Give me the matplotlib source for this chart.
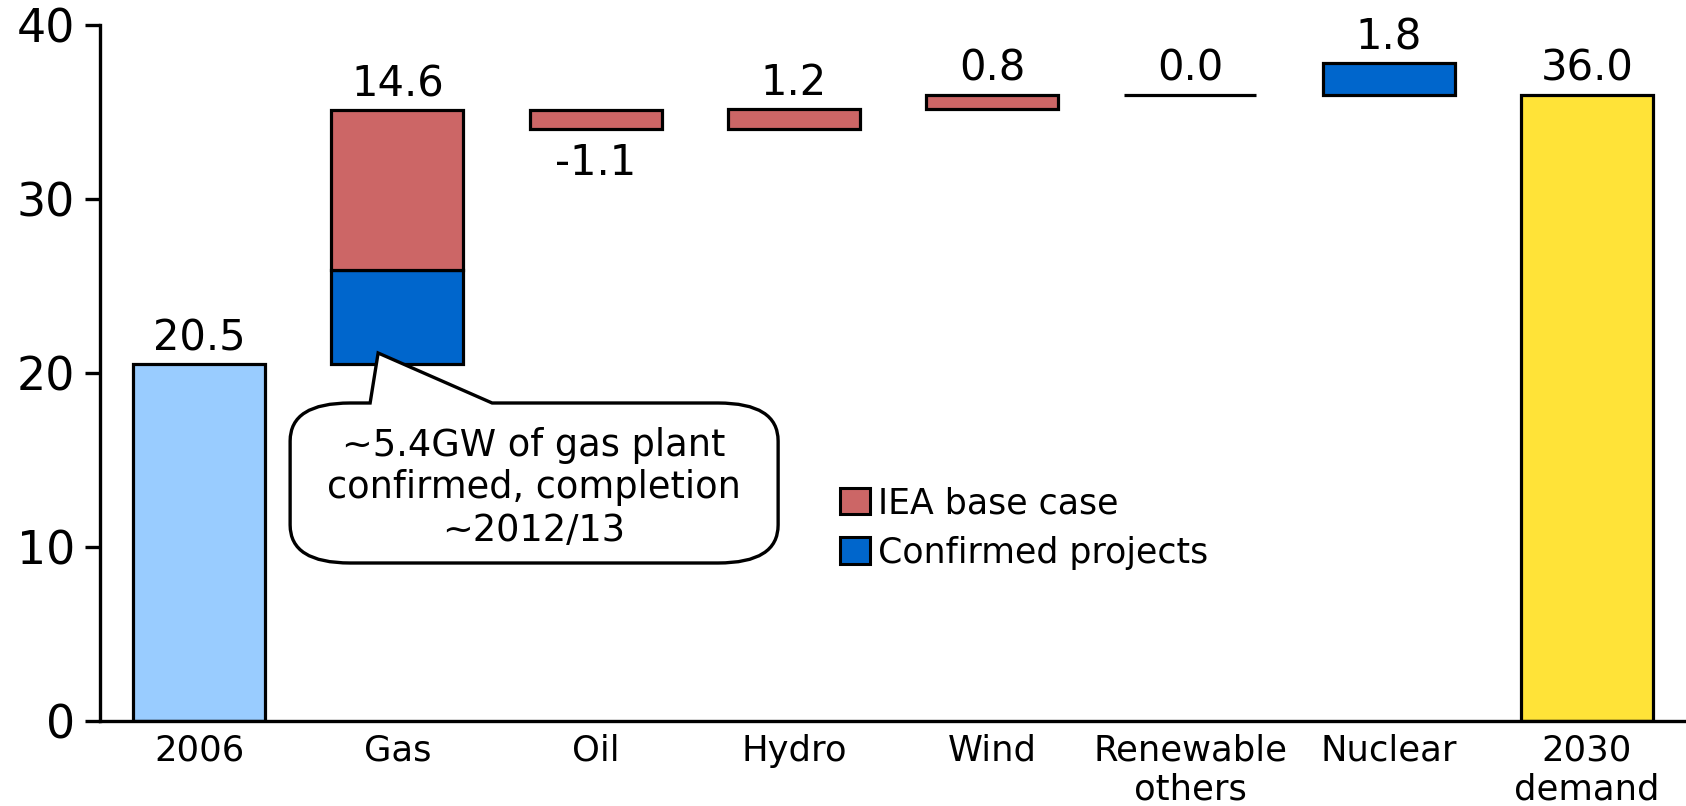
import numpy as np
import matplotlib
matplotlib.use("Agg")
import matplotlib.pyplot as plt
from matplotlib.patches import Patch, PathPatch
from matplotlib.path import Path

# ---------------- data ----------------
categories = ["2006", "Gas", "Oil", "Hydro", "Wind", "Renewable\nothers", "Nuclear", "2030\ndemand"]
start_value = 20.5                      # 2006 capacity
confirmed = [0.0, 5.4, 0.0, 0.0, 0.0, 0.0, 1.8, 0.0]    # confirmed projects (blue)
iea_base = [0.0, 9.2, -1.1, 1.2, 0.8, 0.0, 0.0, 0.0]    # IEA base case (red)
end_value = 36.0                        # 2030 demand
step_labels = ["20.5", "14.6", "-1.1", "1.2", "0.8", "0.0", "1.8", "36.0"]
yticks = [0, 10, 20, 30, 40]
callout_text = "~5.4GW of gas plant\nconfirmed, completion\n~2012/13"
legend_labels = ["IEA base case", "Confirmed projects"]

c_start = "#99CCFF"
c_iea = "#CC6666"
c_conf = "#0066CC"
c_end = "#FFE338"

W, H = 1686, 806
fig = plt.figure(figsize=(W / 100, H / 100), dpi=100)
ax = fig.add_axes([100 / W, (H - 721) / H, 1 - 100 / W, (721 - 25) / H])

x = np.arange(len(categories))
bw = 0.666
lw = 2.3

conf = np.array(confirmed)
iea = np.array(iea_base)
step = conf + iea
cum_before = start_value + np.concatenate([[0.0], np.cumsum(step)[:-1]])

# start / end bars
ax.bar(x[0], start_value, bw, color=c_start, edgecolor="black", linewidth=lw, zorder=2)
ax.bar(x[-1], end_value, bw, color=c_end, edgecolor="black", linewidth=lw, zorder=2)

# steps
tops = [start_value]
bottoms = [start_value]
for i in range(1, len(categories) - 1):
    base = cum_before[i]
    if conf[i] != 0:
        ax.bar(x[i], conf[i], bw, bottom=base, color=c_conf, edgecolor="black",
               linewidth=lw, zorder=2)
    if iea[i] != 0 or conf[i] == 0:
        b = base + conf[i]
        ax.bar(x[i], iea[i], bw, bottom=b, color=c_iea, edgecolor="black",
               linewidth=lw, zorder=2)
    lo = min(base, base + step[i])
    hi = max(base, base + step[i])
    tops.append(hi)
    bottoms.append(lo)
tops.append(end_value)
bottoms.append(0)

# value labels
for i, lab in enumerate(step_labels):
    if lab.startswith("-"):
        ax.annotate(lab, (x[i], bottoms[i]), xytext=(0, -32.5), textcoords="offset points",
                    ha="center", va="baseline", fontsize=30, zorder=5)
    else:
        ax.annotate(lab, (x[i], tops[i]), xytext=(0, 10), textcoords="offset points",
                    ha="center", va="baseline", fontsize=30, zorder=5)

# axes styling
ax.set_xlim(-0.5, 7.5)
ax.set_ylim(0, 40)
ax.set_yticks(yticks)
ax.set_yticklabels([str(t) for t in yticks], fontsize=33)
ax.set_xticks(x)
ax.set_xticklabels(categories, fontsize=25.5, linespacing=1.2)
ax.tick_params(axis="y", direction="out", length=11, width=2.4, pad=7)
ax.tick_params(axis="x", length=0, pad=9)
for s in ["top", "right"]:
    ax.spines[s].set_visible(False)
for s in ["left", "bottom"]:
    ax.spines[s].set_linewidth(2.4)
ax.spines["left"].set_zorder(3)
ax.spines["bottom"].set_zorder(3)

# callout (coordinates in data units of the axes)
def px2d(px, py):
    return ((px - 199) / 198.25, (721 - py) / 17.4)

L, R, T, B = 290, 778, 403, 563
rx, ry = 60, 38
pts = [
    (370, T), (378, 353), (492, T),
    (R - rx, T), (R, T), (R, T + ry),
    (R, B - ry), (R, B), (R - rx, B),
    (L + rx, B), (L, B), (L, B - ry),
    (L, T + ry), (L, T), (L + rx, T),
    (370, T),
]
codes = [Path.MOVETO, Path.LINETO, Path.LINETO,
         Path.LINETO, Path.CURVE3, Path.CURVE3,
         Path.LINETO, Path.CURVE3, Path.CURVE3,
         Path.LINETO, Path.CURVE3, Path.CURVE3,
         Path.LINETO, Path.CURVE3, Path.CURVE3,
         Path.CLOSEPOLY]
path = Path([px2d(*p) for p in pts], codes)
ax.add_patch(PathPatch(path, facecolor="white", edgecolor="black", linewidth=2.4,
                       zorder=4, clip_on=False))
cx, cy = px2d(534, 488)
ax.text(cx, cy, callout_text, ha="center", va="center", fontsize=26.5,
        linespacing=1.18, zorder=5)

# legend
handles = [Patch(facecolor=c_iea, edgecolor="black", linewidth=2.2),
           Patch(facecolor=c_conf, edgecolor="black", linewidth=2.2)]
fig.legend(handles, legend_labels, loc="upper left",
           bbox_to_anchor=(840 / W, 1 - 486 / H), frameon=False, fontsize=25,
           handlelength=0.85, handleheight=0.8, handletextpad=0.25,
           labelspacing=0.45, borderpad=0, borderaxespad=0)

fig.savefig("out.png", dpi=100)
